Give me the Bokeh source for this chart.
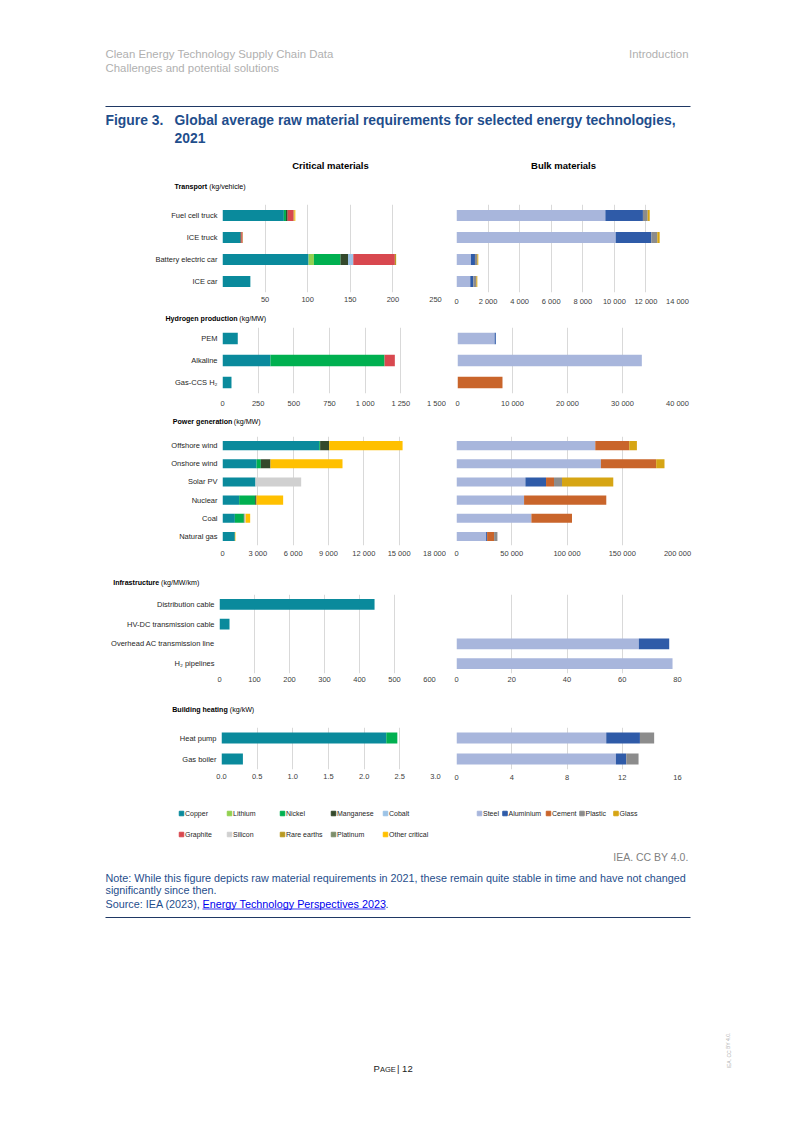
from bokeh.plotting import figure
from bokeh.models import ColumnDataSource, FactorRange, Range1d, FixedTicker
from bokeh.layouts import column, row
from bokeh.embed import file_html
from bokeh.resources import INLINE
from bokeh.core.properties import value

FONT = "Liberation Sans"

# ---------------- data ----------------
CRIT_MATERIALS = ["Copper", "Lithium", "Nickel", "Manganese", "Cobalt",
                  "Graphite", "Silicon", "Rare earths", "Platinum", "Other critical"]
CRIT_COLORS = ["#0a8a9c", "#92d050", "#00b050", "#34492c", "#9dc3e6",
               "#d8484f", "#d0d0d0", "#b89a23", "#7d8f6c", "#ffc000"]
BULK_MATERIALS = ["Steel", "Aluminium", "Cement", "Plastic", "Glass"]
BULK_COLORS = ["#a8b6dc", "#2f5ba8", "#c9652b", "#8c8c8c", "#d6a514"]

TRANSPORT_CATS = ["Fuel cell truck", "ICE truck", "Battery electric car", "ICE car"]
TRANSPORT_CRIT = {"Copper": [72, 21, 101, 32.7], "Lithium": [0, 0, 6.3, 0],
                  "Nickel": [2.5, 0, 31.2, 0], "Manganese": [2, 1, 8.8, 0],
                  "Cobalt": [0, 0, 6.2, 0], "Graphite": [7, 1.5, 48.8, 0],
                  "Rare earths": [1, 0.5, 1.5, 0], "Other critical": [1, 0, 0, 0]}
TRANSPORT_BULK = {"Steel": [9430, 10085, 915, 872], "Aluminium": [2380, 2255, 255, 192],
                  "Plastic": [300, 380, 150, 190], "Glass": [130, 150, 60, 65]}
TRANSPORT_CRIT_TICKS = [0, 50, 100, 150, 200, 250]
TRANSPORT_CRIT_LABELS = ["", "50", "100", "150", "200", "250"]
TRANSPORT_BULK_TICKS = [0, 2000, 4000, 6000, 8000, 10000, 12000, 14000]
TRANSPORT_BULK_LABELS = ["0", "2 000", "4 000", "6 000", "8 000", "10 000", "12 000", "14 000"]

HYDROGEN_CATS = ["PEM", "Alkaline", "Gas-CCS H\u2082"]
HYDROGEN_CRIT = {"Copper": [107, 336, 63], "Nickel": [0, 800, 0], "Graphite": [0, 72, 0]}
HYDROGEN_BULK = {"Steel": [6750, 33515, 0], "Aluminium": [220, 0, 0], "Cement": [0, 0, 8180]}
HYDROGEN_CRIT_TICKS = [0, 250, 500, 750, 1000, 1250, 1500]
HYDROGEN_CRIT_LABELS = ["0", "250", "500", "750", "1 000", "1 250", "1 500"]
HYDROGEN_BULK_TICKS = [0, 10000, 20000, 30000, 40000]
HYDROGEN_BULK_LABELS = ["0", "10 000", "20 000", "30 000", "40 000"]

POWER_CATS = ["Offshore wind", "Onshore wind", "Solar PV", "Nuclear", "Coal", "Natural gas"]
POWER_CRIT = {"Copper": [8210, 2890, 2800, 1415, 1050, 1050],
              "Nickel": [80, 365, 0, 1360, 760, 0],
              "Manganese": [770, 820, 0, 110, 60, 0],
              "Silicon": [0, 0, 3880, 0, 90, 0],
              "Other critical": [6230, 6115, 0, 2265, 390, 50]}
POWER_BULK = {"Steel": [125600, 130700, 62350, 61150, 67770, 26800],
              "Aluminium": [0, 0, 18680, 0, 0, 900],
              "Cement": [30720, 50000, 7230, 74400, 36750, 6330],
              "Plastic": [0, 0, 7230, 0, 0, 3010],
              "Glass": [6930, 7530, 46390, 0, 0, 0]}
POWER_CRIT_TICKS = [0, 3000, 6000, 9000, 12000, 15000, 18000]
POWER_CRIT_LABELS = ["0", "3 000", "6 000", "9 000", "12 000", "15 000", "18 000"]
POWER_BULK_TICKS = [0, 50000, 100000, 150000, 200000]
POWER_BULK_LABELS = ["0", "50 000", "100 000", "150 000", "200 000"]

INFRA_CATS = ["Distribution cable", "HV-DC transmission cable",
              "Overhead AC transmission line", "H\u2082 pipelines"]
INFRA_CRIT = {"Copper": [443, 28.6, 0, 0]}
INFRA_BULK = {"Steel": [0, 0, 66, 78.2], "Aluminium": [0, 0, 11, 0]}
INFRA_CRIT_TICKS = [0, 100, 200, 300, 400, 500, 600]
INFRA_CRIT_LABELS = ["0", "100", "200", "300", "400", "500", "600"]
INFRA_BULK_TICKS = [0, 20, 40, 60, 80]
INFRA_BULK_LABELS = ["0", "20", "40", "60", "80"]

HEAT_CATS = ["Heat pump", "Gas boiler"]
HEAT_CRIT = {"Copper": [2.31, 0.30], "Nickel": [0.155, 0]}
HEAT_BULK = {"Steel": [10.84, 11.54], "Aluminium": [2.44, 0.75], "Plastic": [1.03, 0.89]}
HEAT_CRIT_TICKS = [0, 0.5, 1.0, 1.5, 2.0, 2.5, 3.0]
HEAT_CRIT_LABELS = ["0.0", "0.5", "1.0", "1.5", "2.0", "2.5", "3.0"]
HEAT_BULK_TICKS = [0, 4, 8, 12, 16]
HEAT_BULK_LABELS = ["0", "4", "8", "12", "16"]

# ---------------- layout constants ----------------
PAGE_W = 786
LEFT_W = 446
RIGHT_W = PAGE_W - LEFT_W

BLUE = "#1f4e8c"
NAVY = "#1f3864"


def page_fig(h):
    p = figure(width=PAGE_W, height=h, x_range=Range1d(0, PAGE_W), y_range=Range1d(h, 0),
               x_axis_type=None, y_axis_type=None, output_backend="svg",
               toolbar_location=None, min_border=0, min_border_left=0,
               min_border_right=0, min_border_top=0, min_border_bottom=0)
    p.grid.visible = False
    p.outline_line_color = None
    return p


def txt(p, top, x, y, s, size, color="#000000", bold=False, align="left", angle=0.0):
    p.text(x=[x], y=[y - top], text=[s], text_font=value(FONT),
           text_font_size=size, text_color=color, text_align=align,
           text_baseline="middle", angle=angle,
           text_font_style="bold" if bold else "normal")


def hline(p, top, x0, x1, y, color=NAVY, w=1):
    p.segment(x0=[x0], y0=[y - top], x1=[x1], y1=[y - top],
              line_color=color, line_width=w)


def chart(cats, values, materials, colors, ticks, labels, width, height,
          b_left, b_right, b_top, b_bottom, show_cats, x_standoff, bar_h=0.5):
    kw = {} if show_cats else {"y_axis_location": None}
    p = figure(width=width, height=height,
               x_range=Range1d(ticks[0], ticks[-1]),
               y_range=FactorRange(factors=list(reversed(cats))),
               output_backend="svg", toolbar_location=None,
               min_border_left=b_left, min_border_right=b_right,
               min_border_top=b_top, min_border_bottom=b_bottom, **kw)
    used = [m for m in materials if m in values]
    cols = [colors[materials.index(m)] for m in used]
    data = {"cat": list(cats)}
    for m in used:
        data[m] = values[m]
    p.hbar_stack(used, y="cat", height=bar_h, fill_color=cols, line_color=None,
                 source=ColumnDataSource(data))
    p.outline_line_color = None
    p.ygrid.grid_line_color = None
    p.xgrid.grid_line_color = "#d9d9d9"
    p.xgrid.grid_line_width = 1
    xa = p.xaxis[0]
    xa.ticker = FixedTicker(ticks=ticks)
    xa.major_label_overrides = dict(zip(ticks, labels))
    xa.axis_line_color = None
    xa.major_tick_line_color = None
    xa.minor_tick_line_color = None
    xa.major_tick_out = 0
    xa.major_tick_in = 0
    xa.minor_tick_out = 0
    xa.major_label_standoff = x_standoff
    xa.major_label_text_font = FONT
    xa.major_label_text_font_size = "7.5px"
    xa.major_label_text_color = "#404040"
    if show_cats:
        ya = p.yaxis[0]
        ya.axis_line_color = None
        ya.major_tick_line_color = None
        ya.major_tick_out = 0
        ya.major_tick_in = 0
        ya.major_label_standoff = 5
        ya.major_label_text_font = FONT
        ya.major_label_text_font_size = "7.5px"
        ya.major_label_text_color = "#262626"
    return p


def section_row(cats, crit, bulk, ct, cl, bt, bl, h, lb, rb, top, bottom,
                standoff, rtop=None, rbottom=None, rstandoff=None, bar_h=0.5):
    left = chart(cats, crit, CRIT_MATERIALS, CRIT_COLORS, ct, cl, LEFT_W, h,
                 lb[0], lb[1], top, bottom, True, standoff, bar_h)
    right = chart(cats, bulk, BULK_MATERIALS, BULK_COLORS, bt, bl, RIGHT_W, h,
                  rb[0], rb[1], top if rtop is None else rtop,
                  bottom if rbottom is None else rbottom, False,
                  standoff if rstandoff is None else rstandoff, bar_h)
    return row(left, right, spacing=0)


def strip(top, h, bold, normal, xb, xn, y):
    p = page_fig(h)
    txt(p, top, xb, y, bold, "7.1px", "#000000", bold=True)
    txt(p, top, xn, y, normal, "7.1px", "#000000")
    return p


# ---------------- header ----------------
header = page_fig(195)
txt(header, 0, 105, 53, "Clean Energy Technology Supply Chain Data", "11.4px", "#b0b0b0")
txt(header, 0, 105, 67, "Challenges and potential solutions", "11.4px", "#b0b0b0")
txt(header, 0, 688, 53, "Introduction", "11.4px", "#b0b0b0", align="right")
hline(header, 0, 105, 690, 106)
txt(header, 0, 105, 119, "Figure 3.", "13.9px", BLUE, bold=True)
txt(header, 0, 174, 119,
    "Global average raw material requirements for selected energy technologies,",
    "13.9px", BLUE, bold=True)
txt(header, 0, 174, 137, "2021", "13.9px", BLUE, bold=True)
txt(header, 0, 330, 165, "Critical materials", "9.5px", "#000000", bold=True, align="center")
txt(header, 0, 563, 165, "Bulk materials", "9.5px", "#000000", bold=True, align="center")
txt(header, 0, 174, 186, "Transport", "7.1px", "#000000", bold=True)
txt(header, 0, 208.8, 186, "(kg/vehicle)", "7.1px", "#000000")

# ---------------- sections ----------------
transport = section_row(TRANSPORT_CATS, TRANSPORT_CRIT, TRANSPORT_BULK,
                        TRANSPORT_CRIT_TICKS, TRANSPORT_CRIT_LABELS,
                        TRANSPORT_BULK_TICKS, TRANSPORT_BULK_LABELS,
                        117, (222, 11), (10, 109), 9, 20, 4)

hyd_strip = strip(312, 13, "Hydrogen production", "(kg/MW)", 165, 238.8, 318.3)
hydrogen = section_row(HYDROGEN_CATS, HYDROGEN_CRIT, HYDROGEN_BULK,
                       HYDROGEN_CRIT_TICKS, HYDROGEN_CRIT_LABELS,
                       HYDROGEN_BULK_TICKS, HYDROGEN_BULK_LABELS,
                       87, (222, 10), (11, 109), 2, 19, 5, bar_h=0.52)

pow_strip = strip(412, 18, "Power generation", "(kg/MW)", 172.3, 233.3, 421.7)
power = section_row(POWER_CATS, POWER_CRIT, POWER_BULK,
                    POWER_CRIT_TICKS, POWER_CRIT_LABELS,
                    POWER_BULK_TICKS, POWER_BULK_LABELS,
                    130, (222, 12), (10, 109), 6, 15, 3)

inf_strip = strip(560, 28, "Infrastructure", "(kg/MW/km)", 112.7, 160.6, 582.7)
infra = section_row(INFRA_CATS, INFRA_CRIT, INFRA_BULK,
                    INFRA_CRIT_TICKS, INFRA_CRIT_LABELS,
                    INFRA_BULK_TICKS, INFRA_BULK_LABELS,
                    102, (219, 17), (10, 109), 6, 17, 3, bar_h=0.55)

heat_strip = strip(690, 28, "Building heating", "(kg/kW)", 171.7, 229.3, 709)
heat = section_row(HEAT_CATS, HEAT_CRIT, HEAT_BULK,
                   HEAT_CRIT_TICKS, HEAT_CRIT_LABELS,
                   HEAT_BULK_TICKS, HEAT_BULK_LABELS,
                   72, (221, 11), (10, 109), 6, 21, 4,
                   rtop=9, rbottom=18, rstandoff=5, bar_h=0.52)

# ---------------- footer ----------------
F_TOP = 790
footer = page_fig(300)
LEG_CRIT_X = [181, 229, 282, 333, 385, 181, 229, 282, 333, 385]
LEG_CRIT_Y = [813, 813, 813, 813, 813, 834, 834, 834, 834, 834]
LEG_BULK_X = [479, 504.5, 548, 581.5, 615.5]
LEG_BULK_Y = [813] * 5
footer.scatter(x=LEG_CRIT_X, y=[y - F_TOP for y in LEG_CRIT_Y],
               marker="square", size=4.5, color=CRIT_COLORS)
footer.text(x=[x + 3.5 for x in LEG_CRIT_X], y=[y - F_TOP for y in LEG_CRIT_Y],
            text=CRIT_MATERIALS, text_font=value(FONT), text_font_size="7px",
            text_color="#262626", text_baseline="middle")
footer.scatter(x=LEG_BULK_X, y=[y - F_TOP for y in LEG_BULK_Y],
               marker="square", size=4.5, color=BULK_COLORS)
footer.text(x=[x + 3.5 for x in LEG_BULK_X], y=[y - F_TOP for y in LEG_BULK_Y],
            text=BULK_MATERIALS, text_font=value(FONT), text_font_size="7px",
            text_color="#262626", text_baseline="middle")

txt(footer, F_TOP, 688, 856, "IEA. CC BY 4.0.", "10.5px", "#7f7f7f", align="right")
txt(footer, F_TOP, 105, 877,
    "Note: While this figure depicts raw material requirements in 2021, these remain quite stable in time and have not changed",
    "10.8px", BLUE)
txt(footer, F_TOP, 105, 889, "significantly since then.", "10.8px", BLUE)
txt(footer, F_TOP, 105, 903, "Source: IEA (2023), ", "10.8px", BLUE)
txt(footer, F_TOP, 202, 903, "Energy Technology Perspectives 2023", "10.8px", "#0000ee")
hline(footer, F_TOP, 202, 385, 908.5, "#0000ee", 0.8)
txt(footer, F_TOP, 385, 903, ".", "10.8px", BLUE)
hline(footer, F_TOP, 105, 690, 917)
txt(footer, F_TOP, 373, 1068, "P", "9.5px", "#1a1a1a")
txt(footer, F_TOP, 379.5, 1068.8, "AGE", "7.5px", "#1a1a1a")
txt(footer, F_TOP, 396.5, 1068, " | 12", "9.5px", "#1a1a1a")
txt(footer, F_TOP, 728, 1050, "IEA. CC BY 4.0.", "5px", "#b0b0b0", align="center", angle=1.5708)

page = column(header, transport, hyd_strip, hydrogen, pow_strip, power,
              inf_strip, infra, heat_strip, heat, footer, spacing=0)

open("out.html", "w").write(file_html(page, INLINE))
